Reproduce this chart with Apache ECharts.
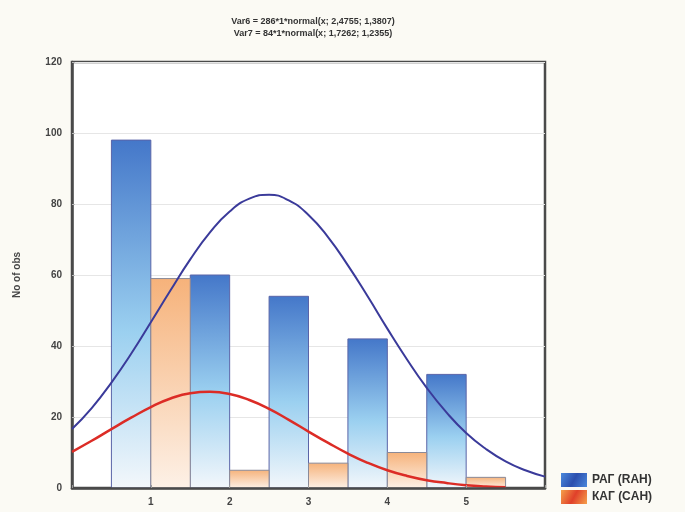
<!DOCTYPE html>
<html lang="en" style="height: 100%">
<head>
  <meta charset="utf-8">
</head>
<body style="height: 100%; margin: 0; background: #fbfaf4">
<div id="container" style="width: 685px; height: 512px"></div>
<script type="text/javascript" src="https://cdn.jsdelivr.net/npm/echarts@6/dist/echarts.min.js"></script>
<script type="text/javascript">
  // histogram categories and counts
  var categories = [1, 2, 3, 4, 5];
  var rahCounts = [98, 60, 54, 42, 32];
  var cahCounts = [59, 5, 7, 10, 3];

  // fitted normal curves, every 0.25
  var curveX = [0, 0.25, 0.5, 0.75, 1, 1.25, 1.5, 1.75, 2, 2.25, 2.5, 2.75, 3,
    3.25, 3.5, 3.75, 4, 4.25, 4.5, 4.75, 5, 5.25, 5.5, 5.75, 6];
  var rahCurve = [16.6, 22.5, 29.7, 37.8, 46.7, 55.7, 64.4, 72.0, 77.9, 81.5, 82.6, 81.0, 76.9,
    70.6, 62.7, 54.0, 44.9, 36.2, 28.2, 21.3, 15.5, 11.0, 7.5, 5.0, 3.2];
  var cahCurve = [10.2, 13.3, 16.6, 19.8, 22.8, 25.2, 26.7, 27.1, 26.5, 24.8, 22.3, 19.2, 15.9,
    12.7, 9.7, 7.1, 5.0, 3.4, 2.2, 1.4, 0.8, 0.45, 0.24];

  var titleLines = [
    'Var6 = 286*1*normal(x; 2,4755; 1,3807)',
    'Var7 = 84*1*normal(x; 1,7262; 1,2355)'
  ];
  var seriesNames = ['РАГ (RAH)', 'КАГ (CAH)'];

  var font = '"Liberation Sans", Arial, sans-serif';
  var frame = '#4a4a4a';

  var blueFill = new echarts.graphic.LinearGradient(0, 0, 0, 1, [
    { offset: 0, color: '#4477c9' },
    { offset: 0.55, color: '#9bd0f0' },
    { offset: 1, color: '#f3f7fb' }
  ]);
  var orangeFill = new echarts.graphic.LinearGradient(0, 0, 0, 1, [
    { offset: 0, color: '#f6b27a' },
    { offset: 1, color: '#fdf1e7' }
  ]);
  var blueIcon = new echarts.graphic.LinearGradient(0, 0, 1, 1, [
    { offset: 0, color: '#4a88dc' },
    { offset: 0.5, color: '#2c4fae' },
    { offset: 1, color: '#4a88dc' }
  ]);
  var orangeIcon = new echarts.graphic.LinearGradient(0, 0, 1, 1, [
    { offset: 0, color: '#f5a04a' },
    { offset: 0.5, color: '#e0402a' },
    { offset: 1, color: '#f5a04a' }
  ]);

  function barSeries(name, counts, from, to, fill, border) {
    return {
      name: name,
      type: 'custom',
      z: 2,
      data: categories.map(function (c, i) { return [c, counts[i]]; }),
      renderItem: function (params, api) {
        var c = api.value(0);
        var p0 = api.coord([c + from, api.value(1)]);
        var p1 = api.coord([c + to, 0]);
        return {
          type: 'rect',
          shape: { x: p0[0], y: p0[1], width: p1[0] - p0[0], height: p1[1] - p0[1] },
          style: { fill: fill, stroke: border, lineWidth: 1 }
        };
      }
    };
  }

  var dom = document.getElementById('container');
  var myChart = echarts.init(dom, null, { renderer: 'canvas' });

  var option = {
    backgroundColor: '#fbfaf4',
    animation: false,
    textStyle: { fontFamily: font },
    title: {
      text: titleLines.join('\n'),
      left: 308,
      top: 11,
      textAlign: 'center',
      textStyle: { fontSize: 9, fontWeight: 'bold', color: '#333', lineHeight: 12, fontFamily: font }
    },
    legend: {
      orient: 'vertical',
      left: 556,
      top: 468,
      itemWidth: 26,
      itemHeight: 14,
      itemGap: 3,
      textStyle: { fontSize: 12, fontWeight: 'bold', color: '#333', fontFamily: font },
      data: [
        { name: seriesNames[0], icon: 'rect', itemStyle: { color: blueIcon } },
        { name: seriesNames[1], icon: 'rect', itemStyle: { color: orangeIcon } }
      ]
    },
    grid: {
      left: 72, right: 140, top: 62, bottom: 24,
      show: true,
      backgroundColor: '#ffffff',
      borderColor: frame,
      borderWidth: 2.5
    },
    xAxis: {
      type: 'value',
      min: 0, max: 6, interval: 1,
      z: 10,
      axisLine: { show: true, onZero: false, lineStyle: { color: frame, width: 2.5 } },
      axisTick: { show: true, inside: true, length: 3, lineStyle: { color: '#999' } },
      splitLine: { show: false },
      axisLabel: {
        fontSize: 10, fontWeight: 'bold', color: '#444', margin: 9,
        formatter: function (v) { return (v >= 1 && v <= 5) ? String(v) : ''; }
      }
    },
    yAxis: {
      type: 'value',
      min: 0, max: 120, interval: 20,
      name: 'No of obs',
      nameLocation: 'middle',
      nameGap: 50,
      nameRotate: 90,
      nameTextStyle: { fontSize: 10, fontWeight: 'bold', color: '#444' },
      axisLine: { show: true, onZero: false, lineStyle: { color: frame, width: 2.5 } },
      axisTick: { show: true, inside: true, length: 3, lineStyle: { color: '#bbb' } },
      splitLine: { show: true, lineStyle: { color: '#e6e6e6', width: 1 } },
      axisLabel: { fontSize: 10, fontWeight: 'bold', color: '#444', margin: 10 }
    },
    series: [
      barSeries(seriesNames[0], rahCounts, -0.5, 0, blueFill, '#5a64a8'),
      barSeries(seriesNames[1], cahCounts, 0, 0.5, orangeFill, '#8a8a98'),
      {
        name: 'rahCurve',
        type: 'line',
        z: 5,
        smooth: true,
        showSymbol: false,
        lineStyle: { color: '#3a3a9a', width: 2 },
        data: curveX.map(function (x, i) { return [x, rahCurve[i]]; })
      },
      {
        name: 'cahCurve',
        type: 'line',
        z: 5,
        smooth: true,
        showSymbol: false,
        lineStyle: { color: '#dc2c26', width: 2.5 },
        data: cahCurve.map(function (y, i) { return [curveX[i], y]; })
      }
    ]
  };

  myChart.setOption(option);
  window.addEventListener('resize', myChart.resize);
</script>
</body>
</html>
